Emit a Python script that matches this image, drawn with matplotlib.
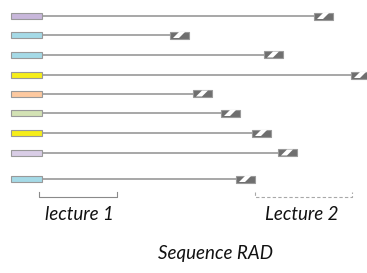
import numpy as np
import matplotlib.pyplot as plt
from matplotlib.patches import Rectangle, Polygon

# lectures RAD : couleur de l'index, position de l'adaptateur
row_y = [16, 35, 54.5, 75, 93.5, 113, 133, 152.5, 179]
index_colors = ['#c8b7db', '#a5dae7', '#a5dae7', '#f6ee1a', '#fdc9a0',
                '#d3e2b4', '#f6ee1a', '#d9cde6', '#a5dae7']
adapter_start = [314, 170, 264, 351, 193, 221, 252, 278, 236]
labels = ['lecture 1', 'Lecture 2', 'Sequence RAD']

index_x0, index_x1 = 11, 41.5
adapter_w = 19

fig = plt.figure(figsize=(3.67, 2.73), dpi=100)
ax = fig.add_axes([0, 0, 1, 1])
ax.set_xlim(0, 367)
ax.set_ylim(273, 0)
ax.axis('off')

for y, c, xa in zip(row_y, index_colors, adapter_start):
    ax.plot([index_x1, xa], [y, y], color='#8f8f8f', lw=1.1, zorder=1)
    ax.add_patch(Rectangle((index_x0, y - 3), index_x1 - index_x0, 6,
                           facecolor=c, edgecolor='#999999', lw=0.8, zorder=2))
    ax.add_patch(Rectangle((xa, y - 3.5), adapter_w, 7,
                           facecolor='#6f6f6f', edgecolor='#9a9a9a', lw=0.8, zorder=2))
    # bande blanche en diagonale
    ax.add_patch(Polygon([(xa + 3, y + 3), (xa + 9, y + 3),
                          (xa + 15, y - 3), (xa + 9, y - 3)],
                         closed=True, facecolor='white', edgecolor='none', zorder=3))

# accolades
ax.plot([39, 39, 116.5, 116.5], [191.5, 196.5, 196.5, 191.5], color='#8a8a8a', lw=0.8)
ax.plot([255, 255, 351.5, 351.5], [191.5, 196.5, 196.5, 191.5], color='#a8a8a8',
        lw=0.8, ls=(0, (3, 2)))

font = dict(family=['Lato', 'DejaVu Sans'], style='italic', color='#111111')
ax.text(79, 214, labels[0], ha='center', va='center', fontsize=13.5, **font)
ax.text(302, 214, labels[1], ha='center', va='center', fontsize=13.5, **font)
ax.text(215, 254, labels[2], ha='center', va='center', fontsize=13.5, **font)

fig.savefig('out.png', dpi=100)
